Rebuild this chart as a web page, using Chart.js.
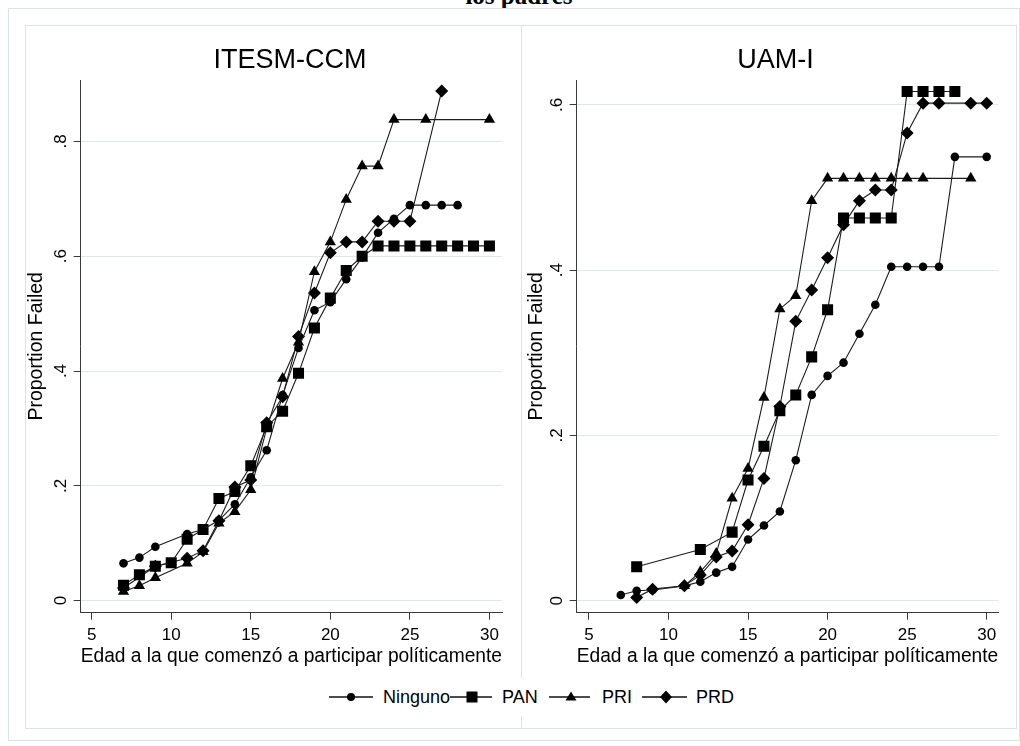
<!DOCTYPE html>
<html><head><meta charset="utf-8">
<script src="https://cdn.jsdelivr.net/npm/chart.js@4.4.1/dist/chart.umd.min.js"></script>
<style>
html,body{margin:0;padding:0;background:#fff;}
body{width:1020px;height:746px;position:relative;overflow:hidden;font-family:"Liberation Sans",Arial,sans-serif;}
.abs{position:absolute;}
.frame{position:absolute;border:1px solid #dbe3e6;box-sizing:border-box;}
.lt{position:absolute;font-size:18px;line-height:20px;top:687px;color:#000;white-space:nowrap;}
</style></head><body>
<div class="abs" style="left:0;top:-17px;width:1038px;text-align:center;font-family:'Liberation Serif',serif;font-weight:bold;font-size:25px;line-height:25px;">los padres</div>
<div class="frame" style="left:8px;top:8px;width:1012px;height:733px;"></div>
<div class="frame" style="left:25px;top:25px;width:992px;height:704px;"></div>
<div class="abs" style="left:521px;top:25px;width:1px;height:704px;background:#dbe3e6;"></div>
<canvas id="c1" class="abs" width="509" height="660" style="left:13px;top:25px;"></canvas>
<canvas id="c2" class="abs" width="494" height="660" style="left:522px;top:25px;"></canvas>
<div class="abs" style="left:322px;top:678px;width:422px;height:38px;background:#fff;"></div>
<svg class="abs" style="left:329px;top:687px;" width="44" height="20"><line x1="0" y1="10" x2="44" y2="10" stroke="#111" stroke-width="1.3"/><circle cx="22" cy="10" r="4" fill="#000"/></svg>
<span class="lt" style="left:383px;">Ninguno</span>
<svg class="abs" style="left:450px;top:687px;" width="42" height="20"><line x1="0" y1="10" x2="42" y2="10" stroke="#111" stroke-width="1.3"/><rect x="16.5" y="4.5" width="11" height="11" fill="#000"/></svg>
<span class="lt" style="left:502px;">PAN</span>
<svg class="abs" style="left:549px;top:687px;" width="41" height="20"><line x1="0" y1="10" x2="41" y2="10" stroke="#111" stroke-width="1.3"/><polygon points="22,4.5 27.5,13.5 16.5,13.5" fill="#000"/></svg>
<span class="lt" style="left:602px;">PRI</span>
<svg class="abs" style="left:642px;top:687px;" width="45" height="20"><line x1="0" y1="10" x2="45" y2="10" stroke="#111" stroke-width="1.3"/><polygon points="24,3.5 30,10 24,16.5 18,10" fill="#000"/></svg>
<span class="lt" style="left:696px;">PRD</span>
<script>
// ---------- DATA ----------
const seriesNames = ['Ninguno','PAN','PRI','PRD'];
const xTicks = [5,10,15,20,25,30];
const leftYTicks = [0,0.2,0.4,0.6,0.8];
const leftYLabels = ['0','.2','.4','.6','.8'];
const rightYTicks = [0,0.2,0.4,0.6];
const rightYLabels = ['0','.2','.4','.6'];
const leftTitle = 'ITESM-CCM';
const rightTitle = 'UAM-I';
const xTitle = 'Edad a la que comenzó a participar políticamente';
const yTitle = 'Proportion Failed';

// ITESM-CCM
const itesmNingunoX = [7,8,9,11,12,13,14,15,16,17,18,19,20,21,22,23,24,25,26,27,28];
const itesmNingunoY = [0.065,0.075,0.094,0.116,0.124,0.14,0.168,0.215,0.262,0.358,0.44,0.506,0.52,0.56,0.598,0.641,0.665,0.689,0.689,0.689,0.689];
const itesmPanX = [7,8,9,10,11,12,13,14,15,16,17,18,19,20,21,22,23,24,25,26,27,28,29,30];
const itesmPanY = [0.027,0.045,0.06,0.066,0.107,0.124,0.178,0.19,0.235,0.303,0.33,0.396,0.475,0.527,0.575,0.60,0.618,0.618,0.618,0.618,0.618,0.618,0.618,0.618];
const itesmPriX = [7,8,9,11,12,13,14,15,16,17,18,19,20,21,22,23,24,26,30];
const itesmPriY = [0.016,0.026,0.04,0.065,0.085,0.135,0.155,0.193,0.30,0.387,0.45,0.573,0.625,0.699,0.757,0.757,0.838,0.838,0.838];
const itesmPrdX = [7,9,11,12,13,14,15,16,17,18,19,20,21,22,23,24,25,27];
const itesmPrdY = [0.022,0.06,0.074,0.087,0.139,0.198,0.21,0.31,0.355,0.46,0.536,0.606,0.625,0.625,0.661,0.661,0.661,0.888];

// UAM-I
const uamNingunoX = [7,8,9,11,12,13,14,15,16,17,18,19,20,21,22,23,24,25,26,27,28,30];
const uamNingunoY = [0.007,0.012,0.013,0.018,0.023,0.034,0.041,0.074,0.091,0.108,0.170,0.249,0.272,0.288,0.323,0.358,0.404,0.404,0.404,0.404,0.537,0.537];
const uamPanX = [8,12,14,15,16,17,18,19,20,21,22,23,24,25,26,27,28];
const uamPanY = [0.041,0.062,0.083,0.146,0.187,0.23,0.249,0.295,0.352,0.463,0.463,0.463,0.463,0.616,0.616,0.616,0.616];
const uamPriX = [11,12,13,14,15,16,17,18,19,20,21,22,23,24,25,26,29];
const uamPriY = [0.018,0.035,0.057,0.124,0.16,0.246,0.353,0.369,0.484,0.511,0.511,0.511,0.511,0.511,0.511,0.511,0.511];
const uamPrdX = [8,9,11,12,13,14,15,16,17,18,19,20,21,22,23,24,25,26,27,29,30];
const uamPrdY = [0.004,0.014,0.018,0.031,0.053,0.060,0.092,0.148,0.235,0.338,0.376,0.415,0.455,0.484,0.497,0.497,0.566,0.602,0.602,0.602,0.602];

// ---------- STYLE ----------
const FONT = '"Liberation Sans", Arial, sans-serif';
const styles = [
  {pointStyle:'circle', radius:4.3},
  {pointStyle:'rect', radius:7.8},
  {pointStyle:'triangle', radius:6.5},
  {pointStyle:'rectRot', radius:6.5}
];
function pts(xs, ys){ return xs.map((x,i)=>({x:x, y:ys[i]})); }
function makeDatasets(list){
  return list.map((s,i)=>({
    label: seriesNames[i],
    data: pts(s[0], s[1]),
    showLine:true,
    borderColor:'#1c1c1c',
    borderWidth:1.1,
    backgroundColor:'#000',
    pointBackgroundColor:'#000',
    pointBorderColor:'#000',
    pointBorderWidth:0,
    pointStyle:styles[i].pointStyle,
    pointRadius:styles[i].radius,
    tension:0
  }));
}

const decor = {
  id:'decor',
  afterDraw(chart, args, o){
    const ctx = chart.ctx, ys = chart.scales.y, a = chart.chartArea;
    ctx.save();
    ctx.fillStyle = '#000';
    ctx.font = '17px ' + FONT;
    ctx.textAlign = 'center';
    ctx.textBaseline = 'middle';
    ys.ticks.forEach((t,i)=>{
      const py = ys.getPixelForValue(t.value);
      ctx.save();
      ctx.translate(a.left - 19, py);
      ctx.rotate(-Math.PI/2);
      ctx.fillText(o.labels[i], 0, 0);
      ctx.restore();
    });
    ctx.font = '27px ' + FONT;
    ctx.textBaseline = 'alphabetic';
    ctx.fillText(o.title, o.titleX, o.titleY);
    ctx.restore();
  }
};

function makeChart(id, datasets, cfg){
  return new Chart(document.getElementById(id), {
    type:'scatter',
    data:{datasets},
    options:{
      responsive:false, animation:false, devicePixelRatio:1,
      layout:{padding:{left:0, top:55, right:cfg.padRight, bottom:2.3}},
      plugins:{legend:{display:false}, tooltip:{enabled:false},
        decor:{labels:cfg.yLabels, title:cfg.title, titleX:cfg.titleX, titleY:42.5}},
      scales:{
        x:{type:'linear', min:cfg.xMin, max:cfg.xMax,
          afterBuildTicks:s=>{ s.ticks = xTicks.map(v=>({value:v})); },
          afterFit:s=>{ s.height = 70; },
          grid:{drawOnChartArea:false, drawTicks:true, tickLength:7, tickColor:'#3a3a3a', tickWidth:1},
          border:{display:true, color:'#3a3a3a', width:1},
          ticks:{font:{family:FONT, size:17}, color:'#000', padding:5.7, maxRotation:0, autoSkip:false},
          title:{display:true, text:xTitle, color:'#000', font:{family:FONT, size:19.5}, padding:{top:0, bottom:14}}
        },
        y:{type:'linear', min:cfg.yMin, max:cfg.yMax,
          afterBuildTicks:s=>{ s.ticks = cfg.yTicks.map(v=>({value:v})); },
          afterFit:s=>{ s.width = cfg.yWidth; },
          grid:{color:'#e0e8ea', lineWidth:1, drawTicks:true, tickLength:7, tickColor:'#3a3a3a'},
          border:{display:true, color:'#3a3a3a', width:1},
          ticks:{display:false},
          title:{display:true, text:yTitle, color:'#000', font:{family:FONT, size:19.5}, padding:{top:cfg.yTitlePad, bottom:0}}
        }
      }
    },
    plugins:[decor]
  });
}

makeChart('c1', makeDatasets([[itesmNingunoX,itesmNingunoY],[itesmPanX,itesmPanY],[itesmPriX,itesmPriY],[itesmPrdX,itesmPrdY]]), {
  padRight:20, xMin:4.31, xMax:30.79, yMin:-0.021, yMax:0.907, yTicks:leftYTicks, yLabels:leftYLabels,
  yWidth:67.7, yTitlePad:12.3, title:leftTitle, titleX:277
});
makeChart('c2', makeDatasets([[uamNingunoX,uamNingunoY],[uamPanX,uamPanY],[uamPriX,uamPriY],[uamPrdX,uamPrdY]]), {
  padRight:17.7, xMin:4.23, xMax:30.73, yMin:-0.0145, yMax:0.630, yTicks:rightYTicks, yLabels:rightYLabels,
  yWidth:54.7, yTitlePad:3.3, title:rightTitle, titleX:253.5
});
</script>
</body></html>
